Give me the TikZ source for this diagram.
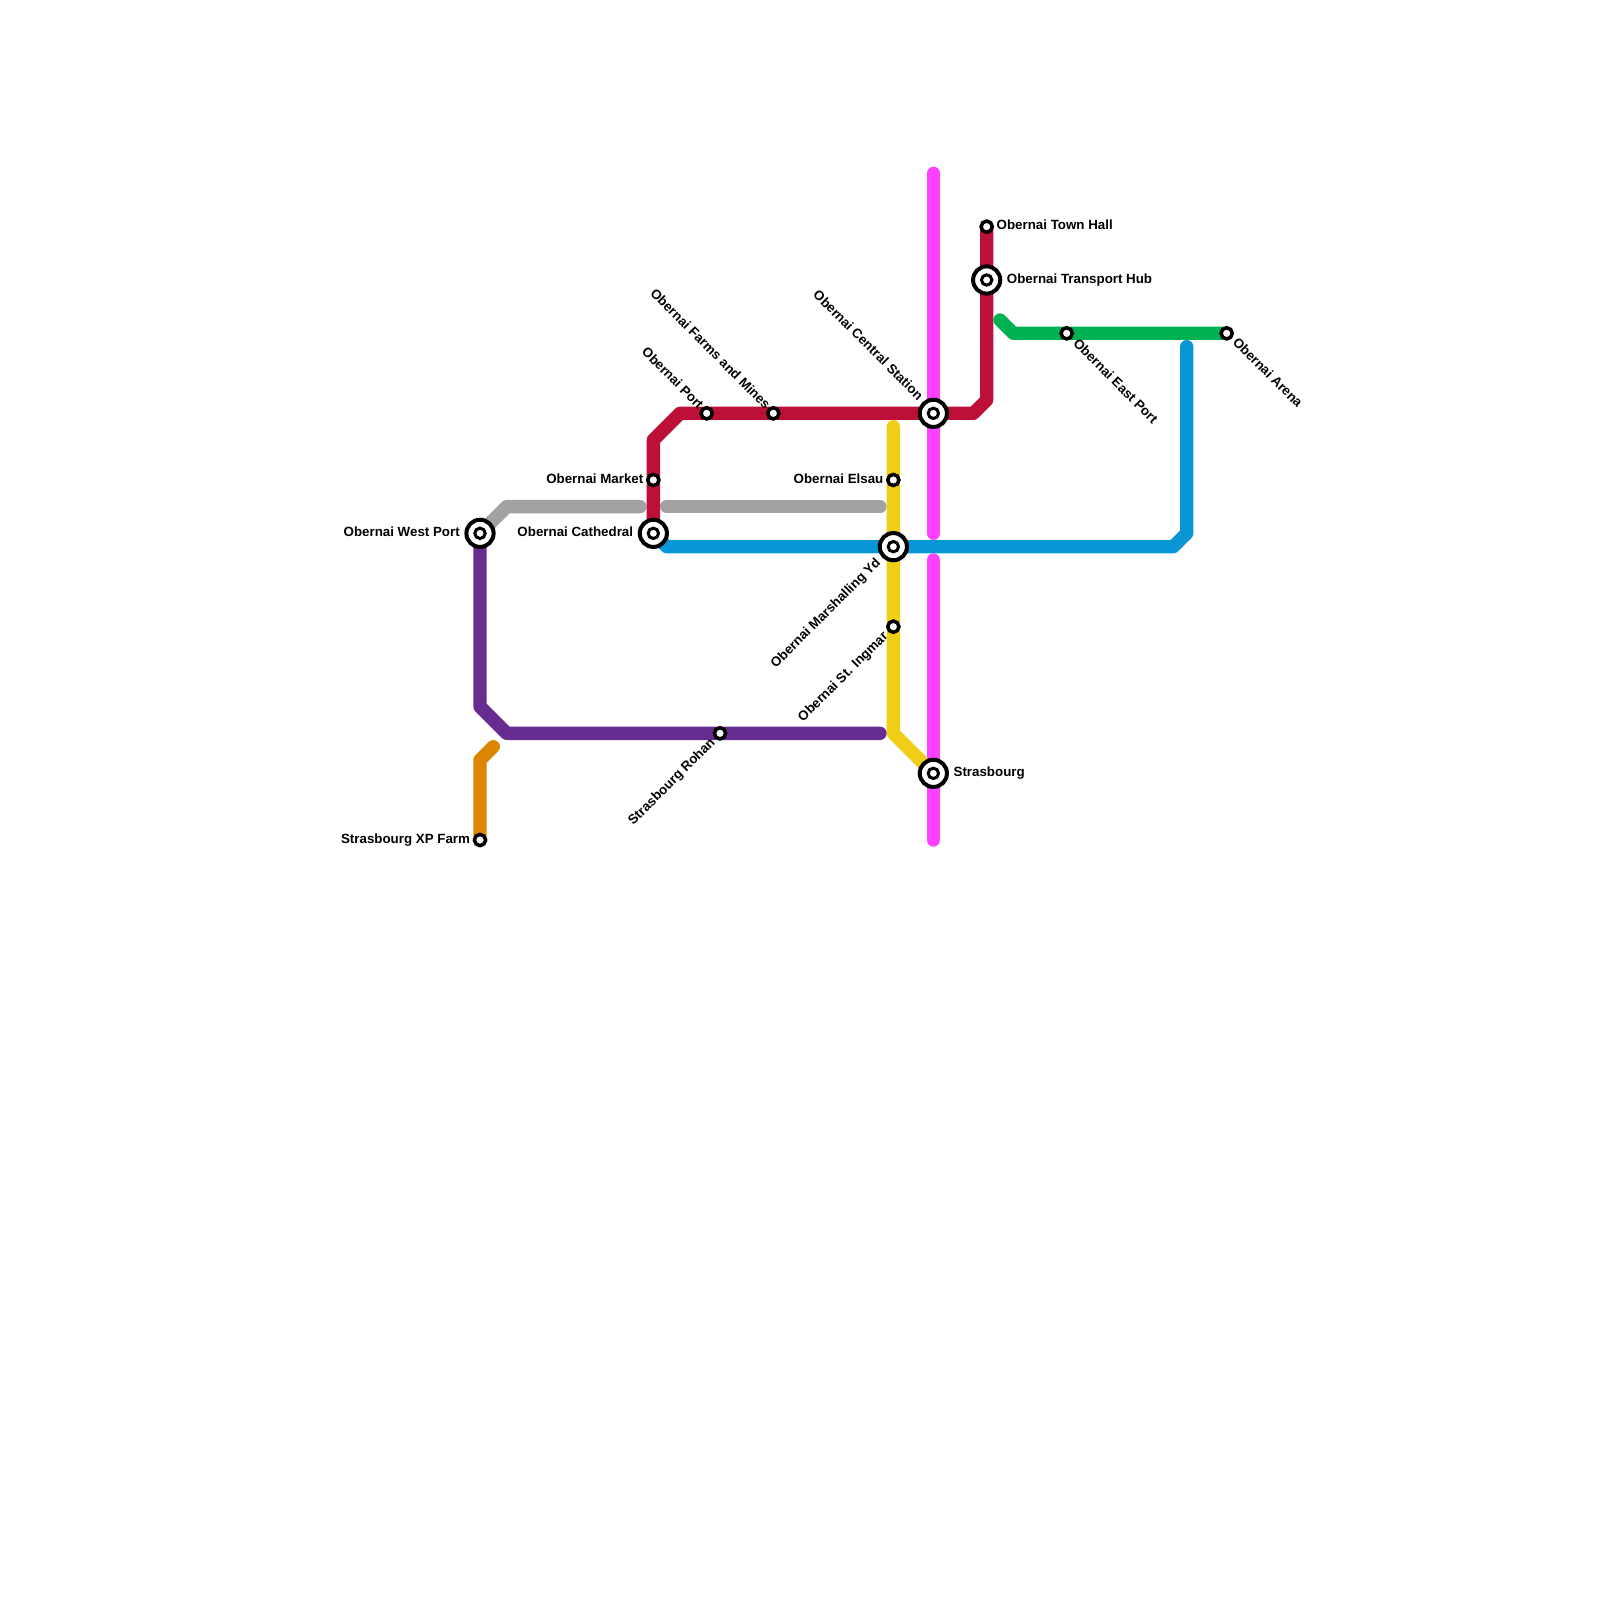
\documentclass[tikz,border=0pt]{standalone}
\usepackage{fontspec}
\setmainfont{Liberation Sans}
\usepackage{xcolor}
\usetikzlibrary{positioning}
\usetikzlibrary{backgrounds}
\definecolor{linhared}{HTML}{BD1038}
\definecolor{linhagray}{HTML}{A2A2A2}
\definecolor{linhablue}{HTML}{0896D7}
\definecolor{linhapurple}{HTML}{662C90}
\definecolor{linhaorange}{HTML}{DF8600}
\definecolor{linhayellow}{HTML}{F0CE15}
\definecolor{linhapink}{HTML}{FF40FF}
\definecolor{linhagreen}{HTML}{00B251}
\tikzset{
  linha/.style={line width=2mm, line cap=round, line join=round, color=#1},
  parada/.style={draw=black, fill=white, circle, line width=0.525mm, minimum size=1.68mm, inner sep=0pt},
  hub/.style={draw=black, fill=white, circle, line width=0.6mm, minimum size=4.08mm, inner sep=0pt,
    path picture={\draw[black, fill=white, line width=0.45mm] (path picture bounding box.center) circle (0.78mm);}},
  nome/.style={font=\bfseries\fontsize{5.69}{6.8}\selectfont, inner sep=0pt, outer sep=0pt, text height=0.73em, text depth=0.21em},
  nomeh/.style={nome, yshift=0.42mm},
  nomeno/.style={nome, rotate=-45, anchor=east},
  nomese/.style={nome, rotate=-45, anchor=west},
  nomeso/.style={nome, rotate=45, anchor=east},
}

\begin{document}
\begin{tikzpicture}[x=0.2cm, y=-0.2cm]
  \useasboundingbox (0,0) rectangle (120,120);
  \node[hub] (wp) at (36,40) {};
  \node[hub] (cd) at (49,40) {};
  \node[hub] (cs) at (70,31) {};
  \node[hub] (tb) at (74,21) {};
  \node[hub] (my) at (67,41) {};
  \node[hub] (sb) at (70,58) {};
  \node[parada] (mk) at (49,36) {};
  \node[parada] (pt) at (53,31) {};
  \node[parada] (fm) at (58,31) {};
  \node[parada] (th) at (74,17) {};
  \node[parada] (ep) at (80,25) {};
  \node[parada] (ar) at (92,25) {};
  \node[parada] (el) at (67,36) {};
  \node[parada] (si) at (67,47) {};
  \node[parada] (rh) at (54,55) {};
  \node[parada] (xp) at (36,63) {};
  \coordinate (pinktop) at (70,13);
  \coordinate (pinkmid) at (70,40);
  \coordinate (pinklow) at (70,42);
  \coordinate (pinkend) at (70,63);
  \coordinate (graya) at (48,38);
  \coordinate (grayb) at (50,38);
  \coordinate (grayc) at (66,38);
  \coordinate (bluea) at (49.5,40.5);
  \coordinate (blueb) at (89,26);
  \coordinate (purplea) at (66,55);
  \coordinate (oranga) at (37,56);
  \coordinate (yellowa) at (67,32);
  \coordinate (greena) at (75,24);
  \begin{scope}[on background layer]
    \draw[linha=linhapink] (pinktop) -- (pinkmid);
    \draw[linha=linhapink] (pinklow) -- (pinkend);
    \draw[linha=linhagray] (wp.center) -- (38,38) -- (graya);
    \draw[linha=linhagray] (grayb) -- (grayc);
    \draw[linha=linhayellow] (yellowa) -- (el.center) -- (my.center) -- (si.center) -- (67,55) -- (sb.center);
    \draw[linha=linhablue] (bluea) -- (50,41) -- (my.center) -- (88,41) -- (89,40) -- (blueb);
    \draw[linha=linhared] (th.center) -- (tb.center) -- (74,30) -- (73,31) -- (cs.center) -- (fm.center) -- (pt.center) -- (51,31) -- (49,33) -- (mk.center) -- (cd.center);
    \draw[linha=linhapurple] (wp.center) -- (36,53) -- (38,55) -- (rh.center) -- (purplea);
    \draw[linha=linhaorange] (xp.center) -- (36,57) -- (oranga);
    \draw[linha=linhagreen] (greena) -- (76,25) -- (ep.center) -- (ar.center);
  \end{scope}
  \node[nomeh, left=0.7mm of wp] (wpnome) {Obernai West Port};
  \node[nomeh, left=0.7mm of cd] (cdnome) {Obernai Cathedral};
  \node[nomeh, left=0.4mm of mk] (mknome) {Obernai Market};
  \node[nomeh, left=0.4mm of el] (elnome) {Obernai Elsau};
  \node[nomeh, left=0.4mm of xp] (xpnome) {Strasbourg XP Farm};
  \node[nomeh, right=0.4mm of th] (thnome) {Obernai Town Hall};
  \node[nomeh, right=0.7mm of tb] (tbnome) {Obernai Transport Hub};
  \node[nomeh, right=0.7mm of sb] (sbnome) {Strasbourg};
  \node[nomeno] (ptnome) at ([shift={(-.32,-.58)}]pt.center) {Obernai Port};
  \node[nomeno] (fmnome) at ([shift={(-.32,-.58)}]fm.center) {Obernai Farms and Mines};
  \node[nomeno] (csnome) at ([shift={(-.85,-1.25)}]cs.center) {Obernai Central Station};
  \node[nomese] (epnome) at ([shift={(.77,.52)}]ep.center) {Obernai East Port};
  \node[nomese] (arnome) at ([shift={(.73,.41)}]ar.center) {Obernai Arena};
  \node[nomeso] (mynome) at ([shift={(-1.23,.92)}]my.center) {Obernai Marshalling Yd};
  \node[nomeso] (sinome) at ([shift={(-.69,.46)}]si.center) {Obernai St. Ingmar};
  \node[nomeso] (rhnome) at ([shift={(-.65,.42)}]rh.center) {Strasbourg Rohan};
\end{tikzpicture}
\end{document}
